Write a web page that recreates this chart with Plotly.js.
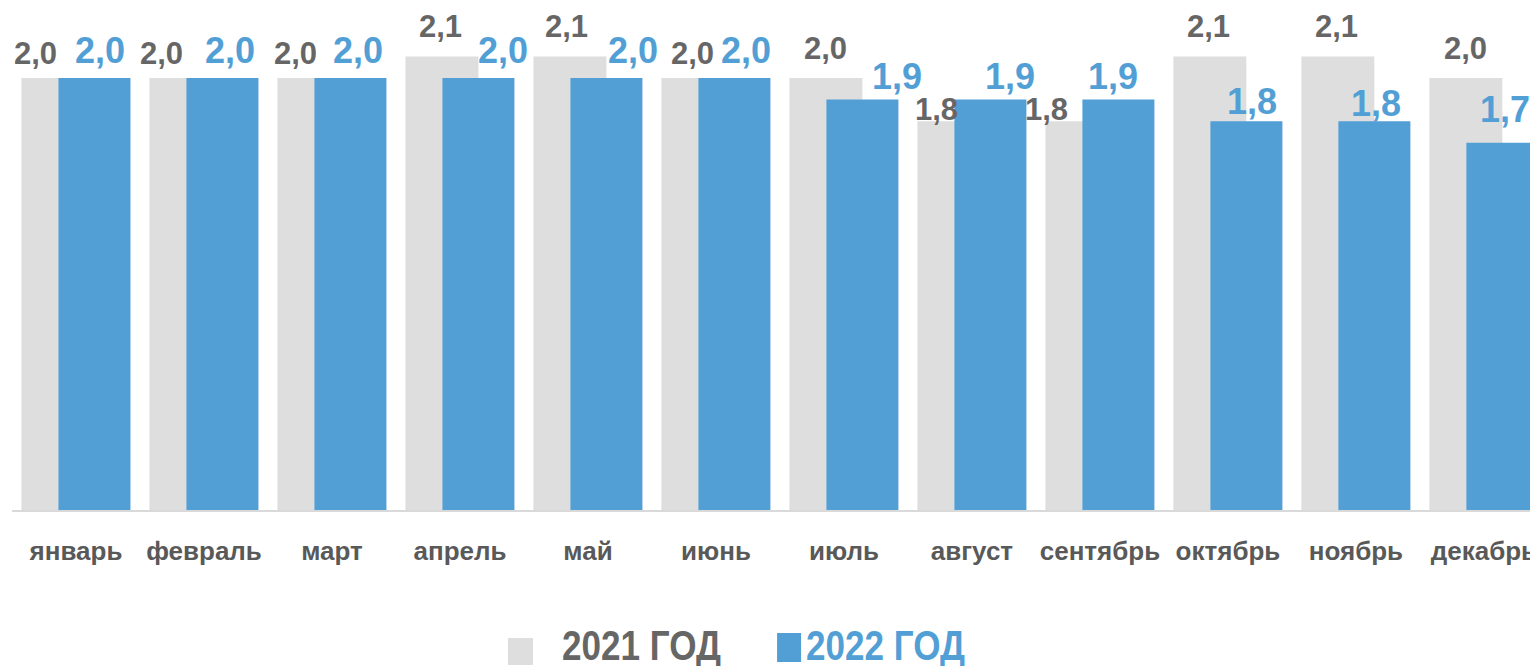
<!DOCTYPE html>
<html>
<head>
<meta charset="utf-8">
<script src="https://cdn.plot.ly/plotly-3.0.1.min.js"></script>
<style>
  html, body { margin: 0; padding: 0; background: #ffffff; overflow: hidden; }
  #chart { width: 1530px; height: 666px; }
</style>
</head>
<body>
<div id="chart"></div>
<script>
// ---- data ----
const months = ["январь", "февраль", "март", "апрель", "май", "июнь", "июль", "август", "сентябрь", "октябрь", "ноябрь", "декабрь"];
const values2021 = [2.0, 2.0, 2.0, 2.1, 2.1, 2.0, 2.0, 1.8, 1.8, 2.1, 2.1, 2.0];
const values2022 = [2.0, 2.0, 2.0, 2.0, 2.0, 2.0, 1.9, 1.9, 1.9, 1.8, 1.8, 1.7];
const seriesNames = ["2021 ГОД", "2022 ГОД"];

// ---- label nudges (px) to mimic manual placement ----
const grayDx = [-22, -24, -18, -1, -3, -5, 0, -17, -35, -1, -1, 0];
const grayDy = [24.5, 24.5, 24.5, 29.5, 29.5, 24.5, 29.5, 11.5, 11.5, 29.5, 29.5, 29.5];
const blueDx = [6, 8, 8, 25, 27, 12, 35, 20, -5, 6, 2, 3];
const blueDy = [28, 28, 28, 28, 28, 28, 23, 23, 23, 20, 18, 33];

const GRAY = "#dedede";
const BLUE = "#529fd6";
const GRAY_TEXT = "#666666";
const AXIS_TEXT = "#595959";
const FONT = "Liberation Sans, Arial, sans-serif";

const grayOffset = -0.426, grayWidth = 0.570;
const blueOffset = -0.137, blueWidth = 0.5625;

const fmt = v => v.toFixed(1).replace(".", ",");

const traces = [
  {
    type: "bar", name: seriesNames[0], x: months, y: values2021,
    marker: { color: GRAY, line: { width: 0 } },
    offset: grayOffset, width: grayWidth, hoverinfo: "skip"
  },
  {
    type: "bar", name: seriesNames[1], x: months, y: values2022,
    marker: { color: BLUE, line: { width: 0 } },
    offset: blueOffset, width: blueWidth, hoverinfo: "skip"
  }
];

const annotations = [];
months.forEach((m, i) => {
  annotations.push({
    xref: "x", yref: "y", x: i + grayOffset + grayWidth / 2, y: values2021[i],
    text: fmt(values2021[i]), showarrow: false,
    xanchor: "center", yanchor: "middle", xshift: grayDx[i], yshift: grayDy[i],
    font: { family: FONT, size: 31, color: GRAY_TEXT, weight: "bold" }
  });
  annotations.push({
    xref: "x", yref: "y", x: i + blueOffset + blueWidth / 2, y: values2022[i],
    text: fmt(values2022[i]), showarrow: false,
    xanchor: "center", yanchor: "middle", xshift: blueDx[i], yshift: blueDy[i],
    font: { family: FONT, size: 36, color: BLUE, weight: "bold" }
  });
});

// custom legend (centres of the condensed texts)
annotations.push({
  xref: "paper", yref: "paper", x: 0.4150, y: -0.2812, xanchor: "center", yanchor: "middle",
  text: seriesNames[0], showarrow: false,
  font: { family: FONT, size: 43, color: GRAY_TEXT, weight: "bold" }
});
annotations.push({
  xref: "paper", yref: "paper", x: 0.5757, y: -0.2812, xanchor: "center", yanchor: "middle",
  text: seriesNames[1], showarrow: false,
  font: { family: FONT, size: 43, color: BLUE, weight: "bold" }
});

const shapes = [
  { type: "rect", xref: "paper", yref: "paper", x0: 0.3267, x1: 0.3432, y0: -0.3229, y1: -0.2667,
    fillcolor: GRAY, line: { width: 0 } },
  { type: "rect", xref: "paper", yref: "paper", x0: 0.5040, x1: 0.5198, y0: -0.3167, y1: -0.2563,
    fillcolor: BLUE, line: { width: 0 } }
];

const layout = {
  width: 1530, height: 666,
  margin: { l: 12, r: 0, t: 30, b: 156, pad: 0 },
  paper_bgcolor: "#ffffff", plot_bgcolor: "#ffffff",
  barmode: "overlay",
  showlegend: false,
  xaxis: {
    type: "category", range: [-0.5, 11.36],
    showgrid: false, zeroline: false,
    showline: true, linecolor: "#d9d9d9", linewidth: 2,
    ticks: "", ticklabelstandoff: 17,
    tickfont: { family: FONT, size: 26, color: AXIS_TEXT, weight: "bold" }
  },
  yaxis: {
    range: [0, 2.2222], visible: false, showgrid: false, zeroline: false
  },
  annotations: annotations,
  shapes: shapes
};

Plotly.newPlot("chart", traces, layout, { displayModeBar: false, staticPlot: true }).then(() => {
  // condense the legend texts (the reference uses a narrow face)
  const n = annotations.length;
  [n - 2, n - 1].forEach(idx => {
    const t = document.querySelector('.annotation[data-index="' + idx + '"] text.annotation-text');
    if (t) {
      t.setAttribute("textLength", "159");
      t.setAttribute("lengthAdjust", "spacingAndGlyphs");
    }
  });
});
</script>
</body>
</html>
